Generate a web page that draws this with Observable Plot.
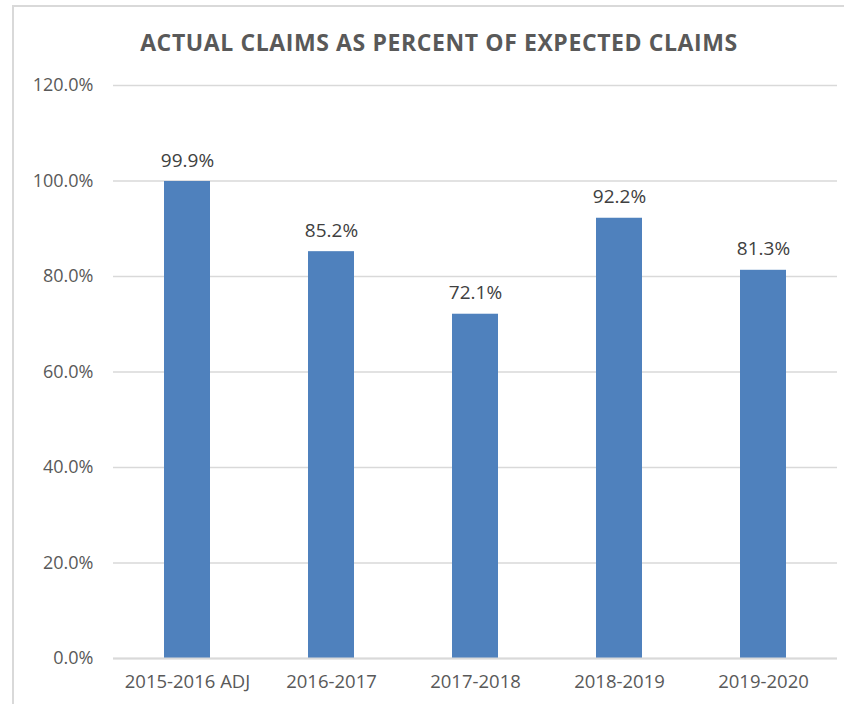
<!DOCTYPE html>
<html>
<head>
<meta charset="utf-8">
<script src="https://cdn.jsdelivr.net/npm/d3@7"></script>
<script src="https://cdn.jsdelivr.net/npm/@observablehq/plot@0.6"></script>
<style>
  html, body { margin: 0; padding: 0; background: #fff; }
  #wrap { position: relative; width: 844px; height: 704px; overflow: hidden; }
  #frame { position: absolute; left: 12px; top: 5px; width: 900px; height: 800px; border: 2.5px solid #d9d9d9; box-sizing: border-box; }
  #title { position: absolute; left: 0; width: 878px; top: 26px; text-align: center; font-family: "Open Sans", sans-serif; font-weight: 700; font-size: 23px; letter-spacing: 0.6px; color: #595959; white-space: nowrap; }
  #chart { position: absolute; left: 0; top: 60px; }
</style>
</head>
<body>
<div id="wrap">
  <div id="frame"></div>
  <div id="title">ACTUAL CLAIMS AS PERCENT OF EXPECTED CLAIMS</div>
  <div id="chart"></div>
</div>
<script>
const categories = ["2015-2016 ADJ", "2016-2017", "2017-2018", "2018-2019", "2019-2020"];
const values = [99.9, 85.2, 72.1, 92.2, 81.3];
const yTicks = [0, 20, 40, 60, 80, 100, 120];

const data = categories.map((c, i) => ({category: c, value: values[i]}));
const fmt = d => d.toFixed(1) + "%";

const chart = Plot.plot({
  width: 844,
  height: 644,
  marginTop: 25,
  marginBottom: 46,
  marginLeft: 113,
  marginRight: 7,
  style: { fontFamily: "'Open Sans', sans-serif", color: "#595959", background: "transparent", overflow: "visible" },
  x: { domain: categories, paddingInner: 0.68, paddingOuter: 0.34, label: null },
  y: { domain: [0, 120], label: null },
  marks: [
    Plot.gridY(yTicks, { stroke: "#d9d9d9", strokeOpacity: 1, strokeWidth: 1.5 }),
    Plot.barY(data, { x: "category", y: "value", fill: "#4f81bd" }),
    Plot.ruleY([0], { stroke: "#d9d9d9", strokeWidth: 2 }),
    Plot.text(data, { x: "category", y: "value", text: d => fmt(d.value), dy: -21, fontSize: 19, fill: "#404040", style: "letter-spacing: 0.7px" }),
    Plot.axisY(yTicks, { tickSize: 0, tickPadding: 20, tickFormat: fmt, fontSize: 18, fill: "#595959", style: "letter-spacing: 0.7px" }),
    Plot.axisX({ tickSize: 0, tickPadding: 16, fontSize: 18.5, fill: "#595959", style: "letter-spacing: 0.4px" })
  ]
});
document.getElementById("chart").appendChild(chart);
</script>
</body>
</html>
